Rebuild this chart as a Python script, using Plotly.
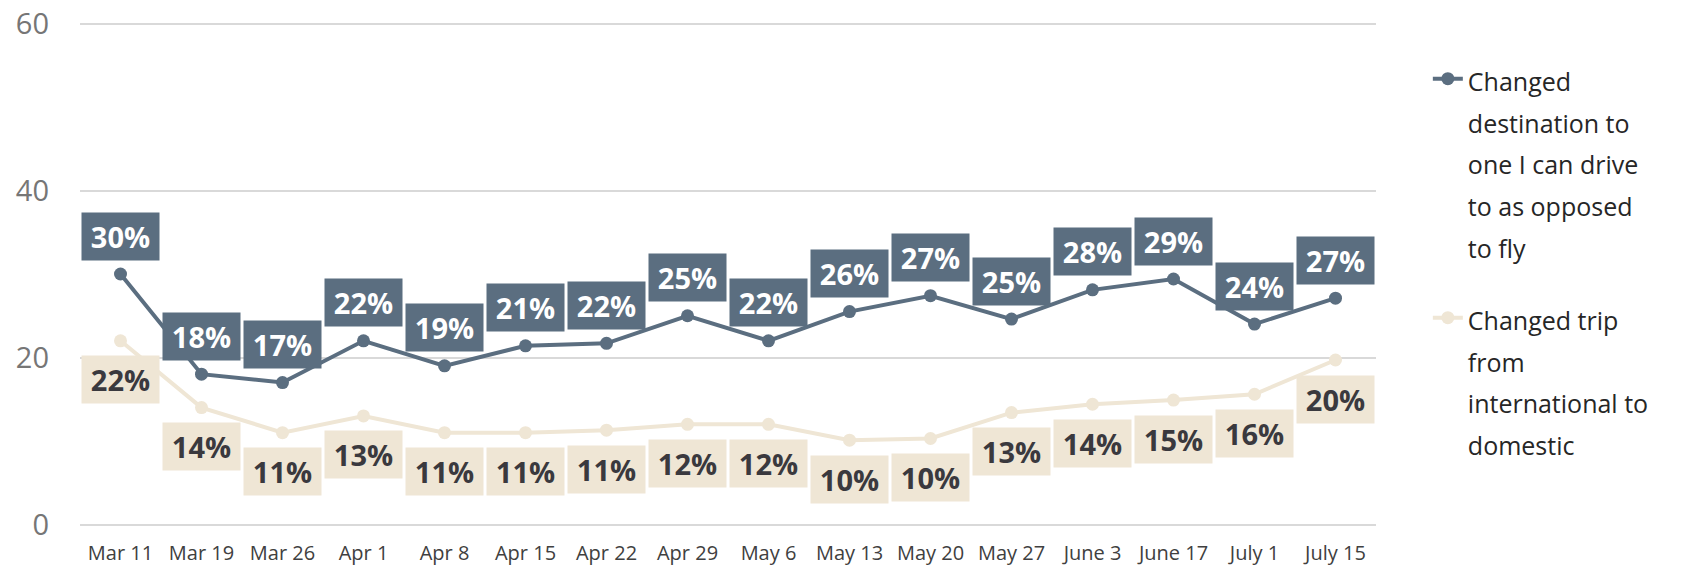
import plotly.graph_objects as go

categories = ["Mar 11", "Mar 19", "Mar 26", "Apr 1", "Apr 8", "Apr 15", "Apr 22", "Apr 29",
              "May 6", "May 13", "May 20", "May 27", "June 3", "June 17", "July 1", "July 15"]
drive_values = [30.0, 18.0, 17.0, 22.0, 19.0, 21.4, 21.7, 25.0,
                22.0, 25.5, 27.4, 24.6, 28.1, 29.4, 24.0, 27.1]
intl_values = [22.0, 14.0, 11.0, 13.0, 11.0, 11.0, 11.3, 12.0,
               12.0, 10.1, 10.3, 13.4, 14.4, 14.9, 15.6, 19.7]
drive_lines = ["Changed", "destination to", "one I can drive", "to as opposed", "to fly"]
intl_lines = ["Changed trip", "from", "international to", "domestic"]
y_ticks = [0, 20, 40, 60]

BLUE = "#5B6E80"
BEIGE = "#EFE6D5"
FONT = "Open Sans"
TS = "\u2009"


def legend_name(lines):
    return "<br>".join(f"<span style='font-size:25px'>{t}</span>" for t in lines)


fig = go.Figure()
fig.add_trace(go.Scatter(x=categories, y=drive_values, name=legend_name(drive_lines), mode="lines+markers",
                         legendgroup="drive",
                         line=dict(color=BLUE, width=4), marker=dict(size=13, color=BLUE)))
fig.add_trace(go.Scatter(x=categories, y=intl_values, name=legend_name(intl_lines), mode="lines+markers",
                         legendgroup="intl",
                         line=dict(color=BEIGE, width=4), marker=dict(size=13, color=BEIGE)))

annotations = []
for c, v in zip(categories, intl_values):
    annotations.append(dict(x=c, y=v, xref="x", yref="y", text=f"{TS}{round(v):d}%{TS}", showarrow=False,
                            yshift=-39, bgcolor=BEIGE, borderpad=4,
                            font=dict(family=FONT, size=29, color="#3A393E", weight="bold")))
for c, v in zip(categories, drive_values):
    annotations.append(dict(x=c, y=v, xref="x", yref="y", text=f"{TS}{round(v):d}%{TS}", showarrow=False,
                            yshift=38, bgcolor=BLUE, borderpad=4,
                            font=dict(family=FONT, size=29, color="#FFFFFF", weight="bold")))

fig.update_layout(
    width=1686, height=567,
    margin=dict(l=80, r=310, t=21, b=40),
    paper_bgcolor="white", plot_bgcolor="white",
    font=dict(family=FONT),
    showlegend=True,
    legend=dict(x=1.040, y=0.94, xanchor="left", yanchor="top", valign="top",
                font=dict(family=FONT, size=32, color="#262626"),
                tracegroupgap=28, itemwidth=30),
    annotations=annotations,
    xaxis=dict(type="category", range=[-0.5, 15.5], showgrid=False, showline=False, zeroline=False,
               automargin=False, ticks="", ticklabelstandoff=12,
               tickfont=dict(family=FONT, size=20, color="#404040")),
    yaxis=dict(range=[-0.3, 60.3], tickvals=y_ticks, showgrid=True, gridcolor="#D9D9D9", gridwidth=2,
               zeroline=False, showline=False, ticks="", ticklabelstandoff=30, automargin=False,
               tickfont=dict(family=FONT, size=29, color="#767676")),
)

fig.write_html("out.html", config={"displayModeBar": False},
               post_script="document.body.style.margin='0';")
